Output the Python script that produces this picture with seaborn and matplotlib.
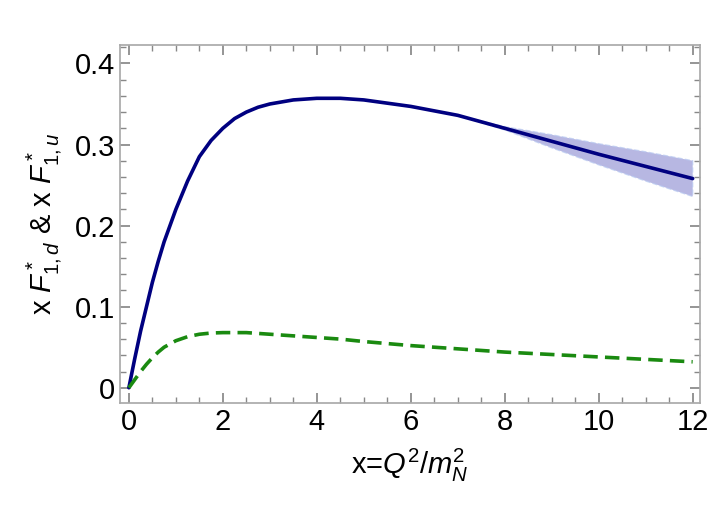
import numpy as np
import pandas as pd
import matplotlib
matplotlib.use("Agg")
import matplotlib.pyplot as plt
import seaborn as sns
from matplotlib.ticker import MultipleLocator

sns.set_theme(style="ticks")
plt.rcParams["font.family"] = "Liberation Sans"
plt.rcParams["mathtext.fontset"] = "custom"
plt.rcParams["mathtext.rm"] = "Liberation Sans"
plt.rcParams["mathtext.it"] = "Liberation Sans:italic"

# values
x_vals = [0, 0.125, 0.25, 0.375, 0.5, 0.625, 0.75, 1, 1.25, 1.5, 1.75, 2, 2.25, 2.5,
          2.75, 3, 3.5, 4, 4.5, 5, 6, 7, 8, 9, 10, 11, 12]
f_u = [0, 0.036, 0.07, 0.10, 0.13, 0.156, 0.18, 0.22, 0.255, 0.285, 0.305, 0.32,
       0.332, 0.34, 0.346, 0.35, 0.355, 0.357, 0.357,
       0.355, 0.347, 0.336, 0.32, 0.304, 0.288, 0.273, 0.258]
f_d = [0, 0.01, 0.02, 0.029, 0.037, 0.044, 0.05, 0.058, 0.063, 0.066, 0.0675, 0.068,
       0.068, 0.068, 0.067, 0.066, 0.064, 0.062, 0.06,
       0.057, 0.052, 0.048, 0.044, 0.041, 0.038, 0.035, 0.032]
err_u = [0] * 22 + [0.002, 0.008, 0.013, 0.018, 0.022]

df = pd.DataFrame({"x": x_vals, "u": f_u, "d": f_d, "err": err_u})

fig = plt.figure(figsize=(7.14, 5.27), dpi=100)
ax = fig.add_axes([0.168, 0.235, 0.812, 0.68])

ax.fill_between(df["x"], df["u"] - df["err"], df["u"] + df["err"],
                color="#9999d6", alpha=0.7, edgecolor="#b8c8f0", lw=1, ls="--")
sns.lineplot(data=df, x="x", y="u", ax=ax, color="#000080", lw=2.6)
sns.lineplot(data=df, x="x", y="d", ax=ax, color="#1a8a10", lw=2.6, ls=(0, (4, 2)))

ax.set_xlim(-0.19, 12.15)
ax.set_ylim(-0.019, 0.423)
ax.xaxis.set_major_locator(MultipleLocator(2))
ax.xaxis.set_minor_locator(MultipleLocator(0.5))
ax.yaxis.set_minor_locator(MultipleLocator(0.02))
ax.set_yticks([0, 0.1, 0.2, 0.3, 0.4])
ax.set_yticklabels(["0", "0.1", "0.2", "0.3", "0.4"])
ax.tick_params(which="both", direction="in", top=True, right=True, color="#888888",
               labelsize=21, labelcolor="black")
ax.tick_params(which="major", length=7)
ax.tick_params(which="minor", length=4)
for s in ax.spines.values():
    s.set_color("#aaaaaa")
ax.set_xlabel(r"x=$Q^2/m_N^2$", fontsize=21, labelpad=8, color="black")
ax.set_ylabel(r"x $F^*_{1,d}$ & x $F^*_{1,u}$", fontsize=21, labelpad=8, color="black")

fig.savefig("out.png", dpi=100)
